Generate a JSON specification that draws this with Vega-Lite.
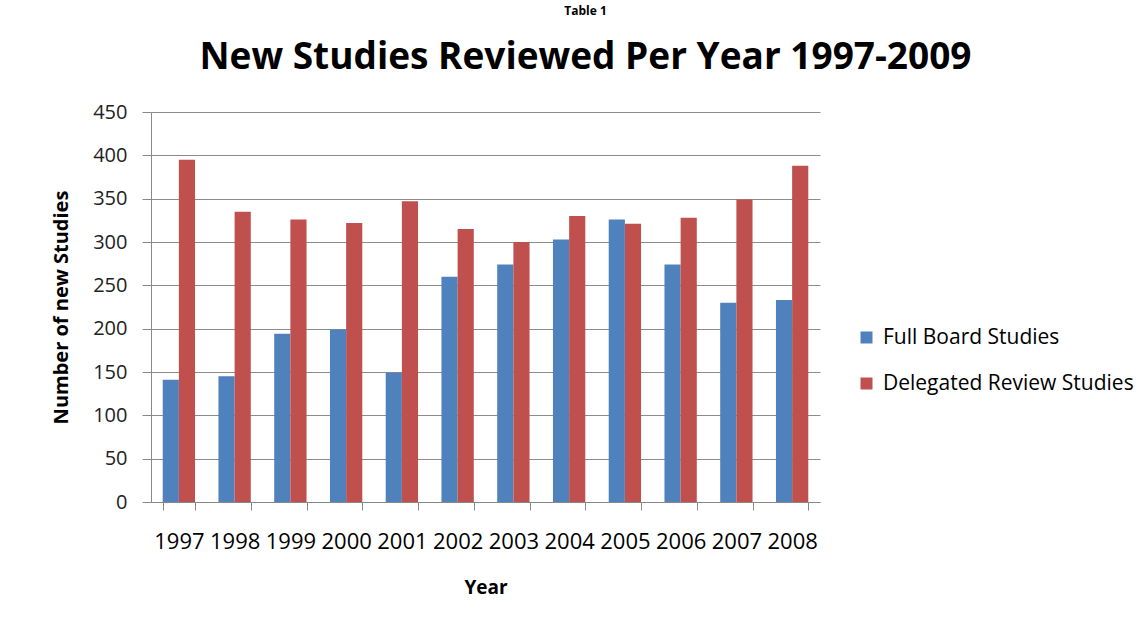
{
  "$schema": "https://vega.github.io/schema/vega-lite/v6.json",
  "width": 669,
  "height": 390,
  "autosize": {"type": "none"},
  "padding": {"left": 151, "top": 112, "right": 328, "bottom": 127},
  "background": "white",
  "title": {
    "text": "Table 1",
    "subtitle": "New Studies Reviewed Per Year 1997-2009",
    "anchor": "middle",
    "dx": 100,
    "offset": 25,
    "font": "Open Sans",
    "fontSize": 12,
    "fontWeight": "bold",
    "color": "#000000",
    "subtitleFont": "Open Sans",
    "subtitleFontSize": 37,
    "subtitleFontWeight": "bold",
    "subtitleColor": "#000000",
    "subtitlePadding": 22
  },
  "data": {
    "values": [
      {"year": "1997", "series": "Full Board Studies", "value": 141},
      {"year": "1997", "series": "Delegated Review Studies", "value": 395},
      {"year": "1998", "series": "Full Board Studies", "value": 145},
      {"year": "1998", "series": "Delegated Review Studies", "value": 335},
      {"year": "1999", "series": "Full Board Studies", "value": 194},
      {"year": "1999", "series": "Delegated Review Studies", "value": 326},
      {"year": "2000", "series": "Full Board Studies", "value": 199},
      {"year": "2000", "series": "Delegated Review Studies", "value": 322},
      {"year": "2001", "series": "Full Board Studies", "value": 149},
      {"year": "2001", "series": "Delegated Review Studies", "value": 347},
      {"year": "2002", "series": "Full Board Studies", "value": 260},
      {"year": "2002", "series": "Delegated Review Studies", "value": 315},
      {"year": "2003", "series": "Full Board Studies", "value": 274},
      {"year": "2003", "series": "Delegated Review Studies", "value": 300},
      {"year": "2004", "series": "Full Board Studies", "value": 303},
      {"year": "2004", "series": "Delegated Review Studies", "value": 330},
      {"year": "2005", "series": "Full Board Studies", "value": 326},
      {"year": "2005", "series": "Delegated Review Studies", "value": 321},
      {"year": "2006", "series": "Full Board Studies", "value": 274},
      {"year": "2006", "series": "Delegated Review Studies", "value": 328},
      {"year": "2007", "series": "Full Board Studies", "value": 230},
      {"year": "2007", "series": "Delegated Review Studies", "value": 349},
      {"year": "2008", "series": "Full Board Studies", "value": 233},
      {"year": "2008", "series": "Delegated Review Studies", "value": 388}
    ]
  },
  "mark": {"type": "bar"},
  "encoding": {
    "x": {
      "field": "year",
      "type": "nominal",
      "sort": null,
      "scale": {"paddingInner": 0.42, "paddingOuter": 0.21},
      "axis": {
        "title": "Year",
        "titleFont": "Open Sans",
        "titleFontSize": 19,
        "titleFontWeight": "bold",
        "titleColor": "#000000",
        "titlePadding": 26,
        "labelAngle": 0,
        "labelFont": "Open Sans",
        "labelFontSize": 22,
        "labelColor": "#000000",
        "labelPadding": 21,
        "tickBand": "extent",
        "tickSize": 8,
        "tickColor": "#888888",
        "domainColor": "#888888",
        "grid": false
      }
    },
    "xOffset": {"field": "series", "type": "nominal", "sort": ["Full Board Studies", "Delegated Review Studies"]},
    "y": {
      "field": "value",
      "type": "quantitative",
      "scale": {"domain": [0, 450], "nice": false},
      "axis": {
        "title": "Number of new Studies",
        "titleFont": "Open Sans",
        "titleFontSize": 20,
        "titleFontWeight": "bold",
        "titleColor": "#000000",
        "titlePadding": 21,
        "values": [0, 50, 100, 150, 200, 250, 300, 350, 400, 450],
        "labelFont": "Open Sans",
        "labelFontSize": 20,
        "labelColor": "#222222",
        "labelPadding": 15,
        "tickSize": 9,
        "tickColor": "#888888",
        "domainColor": "#888888",
        "gridColor": "#8c8c8c",
        "gridWidth": 1
      }
    },
    "color": {
      "field": "series",
      "type": "nominal",
      "sort": ["Full Board Studies", "Delegated Review Studies"],
      "scale": {"domain": ["Full Board Studies", "Delegated Review Studies"], "range": ["#4F81BD", "#C0504D"]},
      "legend": {
        "title": null,
        "orient": "none",
        "legendX": 705,
        "legendY": 215,
        "symbolType": "square",
        "symbolSize": 144,
        "symbolStrokeWidth": 0,
        "labelFont": "Open Sans",
        "labelFontSize": 21,
        "labelColor": "#000000",
        "labelOffset": 6,
        "rowPadding": 24,
        "labelLimit": 400
      }
    }
  },
  "config": {"view": {"stroke": null}}
}
